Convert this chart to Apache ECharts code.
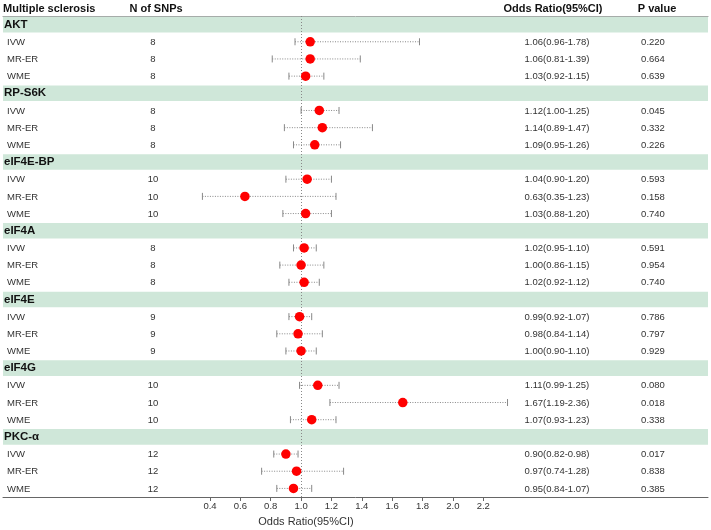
<!DOCTYPE html>
<html>
<head>
<meta charset="utf-8">
<script src="https://cdn.jsdelivr.net/npm/echarts/dist/echarts.min.js"></script>
<style>html,body{margin:0;padding:0;background:#fff;}#chart{width:711px;height:530px;}</style>
</head>
<body>
<div id="chart"></div>
<script>
// ---- data ----
const groups = ['AKT', 'RP-S6K', 'eIF4E-BP', 'eIF4A', 'eIF4E', 'eIF4G', 'PKC-α'];
const methods = ['IVW', 'MR-ER', 'WME'];
const nSnps = [[8, 8, 8], [8, 8, 8], [10, 10, 10], [8, 8, 8], [9, 9, 9], [10, 10, 10], [12, 12, 12]];
const orValues = [[1.06, 1.06, 1.03], [1.12, 1.14, 1.09], [1.04, 0.63, 1.03], [1.02, 1.00, 1.02], [0.99, 0.98, 1.00], [1.11, 1.67, 1.07], [0.90, 0.97, 0.95]];
const ciLower = [[0.96, 0.81, 0.92], [1.00, 0.89, 0.95], [0.90, 0.35, 0.88], [0.95, 0.86, 0.92], [0.92, 0.84, 0.90], [0.99, 1.19, 0.93], [0.82, 0.74, 0.84]];
const ciUpper = [[1.78, 1.39, 1.15], [1.25, 1.47, 1.26], [1.20, 1.23, 1.20], [1.10, 1.15, 1.12], [1.07, 1.14, 1.10], [1.25, 2.36, 1.23], [0.98, 1.28, 1.07]];
const pValues = [['0.220', '0.664', '0.639'], ['0.045', '0.332', '0.226'], ['0.593', '0.158', '0.740'], ['0.591', '0.954', '0.740'], ['0.786', '0.797', '0.929'], ['0.080', '0.018', '0.338'], ['0.017', '0.838', '0.385']];
const xTicks = [0.4, 0.6, 0.8, 1.0, 1.2, 1.4, 1.6, 1.8, 2.0, 2.2];
const headers = ['Multiple sclerosis', 'N of SNPs', 'Odds Ratio(95%CI)', 'P value'];
const axisTitle = 'Odds Ratio(95%CI)';
const nullValue = 1.0;

// ---- build rows ----
const rows = [];
groups.forEach((g, gi) => {
  rows.push({ kind: 'group', label: g });
  methods.forEach((m, mi) => {
    rows.push({
      kind: 'row', label: m, n: nSnps[gi][mi],
      or: orValues[gi][mi], lo: ciLower[gi][mi], hi: ciUpper[gi][mi],
      text: orValues[gi][mi].toFixed(2) + '(' + ciLower[gi][mi].toFixed(2) + '-' + ciUpper[gi][mi].toFixed(2) + ')',
      p: pValues[gi][mi]
    });
  });
});
const rowIds = rows.map((r, i) => String(i));

const FONT = "'Liberation Sans', Arial, sans-serif";
const col = { label: 7, group: 4, n: 153, or: 557, p: 653 };
const hdr = { y: 8.5, ms: 3, n: 156, or: 553, p: 657 };

const chart = echarts.init(document.getElementById('chart'), null, { renderer: 'canvas' });

const bandData = rows.map((r, i) => r.kind === 'group' ? [0, i] : null).filter(Boolean);
const textData = rows.map((r, i) => [0, i]);
const errData = [];
const ptData = [];
rows.forEach((r, i) => {
  if (r.kind === 'row') {
    errData.push([r.lo, r.hi, i]);
    ptData.push([r.or, i]);
  }
});

const hText = (t, x, al) => ({ type: 'text', x: x, y: hdr.y, style: { text: t, font: 'bold 11px ' + FONT, fill: '#111', align: al, verticalAlign: 'middle' } });

const option = {
  animation: false,
  backgroundColor: '#fff',
  grid: { left: 3, right: 3, top: 16, bottom: 33 },
  xAxis: [{
    type: 'value', min: -0.9636, max: 3.6806,
    axisLine: { show: true, lineStyle: { color: '#666', width: 1 } },
    axisTick: { show: true, customValues: xTicks, length: 4, lineStyle: { color: '#666' } },
    axisLabel: { customValues: xTicks, formatter: v => v.toFixed(1), color: '#333', fontSize: 9.5, fontFamily: FONT, margin: 4 },
    splitLine: { show: false }
  }, {
    type: 'value', position: 'top', min: -0.9636, max: 3.6806,
    axisLine: { show: true, lineStyle: { color: '#999', width: 1 } },
    axisTick: { show: false }, axisLabel: { show: false }, splitLine: { show: false }
  }],
  yAxis: {
    type: 'category', data: rowIds, inverse: true,
    axisLine: { show: false }, axisTick: { show: false }, axisLabel: { show: false }, splitLine: { show: false }
  },
  graphic: [
    hText(headers[0], hdr.ms, 'left'),
    hText(headers[1], hdr.n, 'center'),
    hText(headers[2], hdr.or, 'center'),
    hText(headers[3], hdr.p, 'center'),
    { type: 'text', x: 306, y: 522, style: { text: axisTitle, font: '11px ' + FONT, fill: '#333', align: 'center', verticalAlign: 'middle' } }
  ],
  series: [
    {
      type: 'custom', name: 'bands', z: 1, clip: false,
      data: bandData,
      renderItem: (params, api) => {
        const cs = params.coordSys;
        const y = api.coord([0, api.value(1)])[1];
        const h = api.size([0, 1])[1] - 1.6;
        return { type: 'rect', shape: { x: cs.x, y: y - h / 2, width: cs.width, height: h }, style: { fill: '#cfe7d9' } };
      }
    },
    {
      type: 'custom', name: 'table', z: 5, clip: false, silent: true,
      data: textData,
      renderItem: (params, api) => {
        const i = api.value(1);
        const r = rows[i];
        const y = api.coord([0, i])[1];
        if (r.kind === 'group') {
          return { type: 'text', style: { text: r.label, x: col.group, y: y, font: 'bold 11.5px ' + FONT, fill: '#111', align: 'left', verticalAlign: 'middle' } };
        }
        const st = (t, x, al) => ({ type: 'text', style: { text: t, x: x, y: y + 0.5, font: '9.5px ' + FONT, fill: '#333', align: al, verticalAlign: 'middle' } });
        return {
          type: 'group', children: [
            st(r.label, col.label, 'left'),
            st(String(r.n), col.n, 'center'),
            st(r.text, col.or, 'center'),
            st(r.p, col.p, 'center')
          ]
        };
      }
    },
    {
      type: 'custom', name: 'ci', z: 3, clip: false,
      data: errData,
      encode: { x: [0, 1], y: 2 },
      renderItem: (params, api) => {
        const row = api.value(2);
        const a = api.coord([api.value(0), row]);
        const b = api.coord([api.value(1), row]);
        const c = 3.5;
        return {
          type: 'group', children: [
            { type: 'line', shape: { x1: a[0], y1: a[1], x2: b[0], y2: b[1] }, style: { stroke: '#888', lineWidth: 1, lineDash: [1, 1.5] } },
            { type: 'line', shape: { x1: a[0], y1: a[1] - c, x2: a[0], y2: a[1] + c }, style: { stroke: '#888', lineWidth: 1 } },
            { type: 'line', shape: { x1: b[0], y1: b[1] - c, x2: b[0], y2: b[1] + c }, style: { stroke: '#888', lineWidth: 1 } }
          ]
        };
      }
    },
    {
      type: 'scatter', name: 'OR', z: 6,
      data: ptData, symbol: 'circle', symbolSize: 9.5,
      itemStyle: { color: '#ff0000', opacity: 1 },
      markLine: {
        silent: true, symbol: 'none', label: { show: false },
        lineStyle: { color: '#888', type: [1, 2], width: 1 },
        data: [{ xAxis: nullValue }]
      }
    }
  ]
};
chart.setOption(option);
</script>
</body>
</html>
